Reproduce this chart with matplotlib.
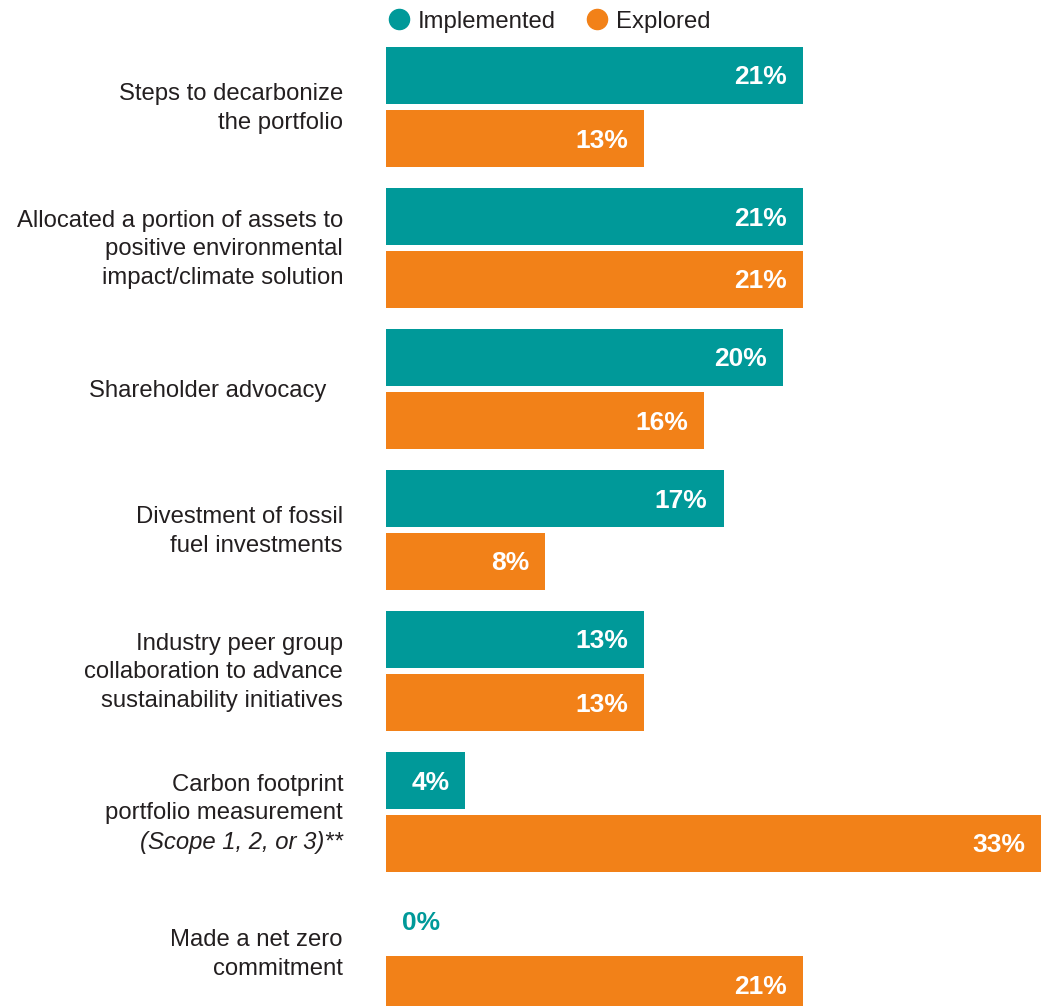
import matplotlib.pyplot as plt
from matplotlib.lines import Line2D

plt.rcParams["font.family"] = ["Liberation Sans", "DejaVu Sans"]

# data
categories = [
    "Steps to decarbonize\nthe portfolio",
    "Allocated a portion of assets to\npositive environmental\nimpact/climate solution",
    "Shareholder advocacy",
    "Divestment of fossil\nfuel investments",
    "Industry peer group\ncollaboration to advance\nsustainability initiatives",
    "Carbon footprint\nportfolio measurement",
    "Made a net zero\ncommitment",
]
footnote_line = "(Scope 1, 2, or 3)**"   # italic third line of the carbon footprint label
implemented = [21, 21, 20, 17, 13, 4, 0]
explored = [13, 21, 16, 8, 13, 33, 21]
series_names = ["Implemented", "Explored"]

TEAL = "#009999"
ORANGE = "#F28118"
TEXT = "#231F20"

W, H = 1045, 1006
PX = 0.72  # points per pixel at dpi 100
fig = plt.figure(figsize=(W / 100, H / 100), dpi=100)

# bar area: starts at x=386 px, group pitch 141 px, first group centred at 107 px
left = 386
ax = fig.add_axes([left / W, 0, (W - left) / W, 1])
ax.set_xlim(0, (W - left) / 19.86)
ax.set_ylim((H - 107) / 141, -107 / 141)
ax.axis("off")

bar_h = 57 / 141
off = 31.5 / 141
ys = list(range(len(categories)))

ax.barh([y - off for y in ys], implemented, height=bar_h, color=TEAL)
ax.barh([y + off for y in ys], explored, height=bar_h, color=ORANGE)

val_kw = dict(textcoords="offset points", va="center", fontsize=19, fontweight="bold")
vdy = -2 * PX
for y, v in zip(ys, implemented):
    if v > 0:
        ax.annotate(f"{v}%", (v, y - off), xytext=(-16 * PX, vdy), ha="right",
                    color="white", **val_kw)
    else:
        ax.annotate(f"{v}%", (v, y - off), xytext=(16 * PX, vdy), ha="left",
                    color=TEAL, **val_kw)
for y, v in zip(ys, explored):
    ax.annotate(f"{v}%", (v, y + off), xytext=(-16 * PX, vdy), ha="right",
                color="white", **val_kw)

# category labels, right-aligned left of the bars
step = 29  # px between label lines
lab_kw = dict(textcoords="offset points", ha="right", va="center",
              fontsize=17.2, color=TEXT, linespacing=1.4)
for y, lab in zip(ys, categories):
    dx = -43
    dy = -1.5
    if lab.startswith("Shareholder"):
        dx = -60
    if lab.startswith("Carbon"):
        dy = step / 2 - 1.5
        ax.annotate(footnote_line, (0, y), xytext=(dx * PX, (-step - 1.5) * PX),
                    fontstyle="italic", **lab_kw)
    ax.annotate(lab, (0, y), xytext=(dx * PX, dy * PX), **lab_kw)

# legend along the top
for cx, name, col in [(399, series_names[0], TEAL), (597, series_names[1], ORANGE)]:
    fig.add_artist(Line2D([cx / W], [1 - 19 / H], marker="o", markersize=14.5,
                          color=col, linestyle="none", transform=fig.transFigure))
    fig.text((cx + 19) / W, 1 - 22 / H, name, ha="left", va="center",
             fontsize=17.2, color=TEXT)

fig.savefig("out.png", dpi=100)
